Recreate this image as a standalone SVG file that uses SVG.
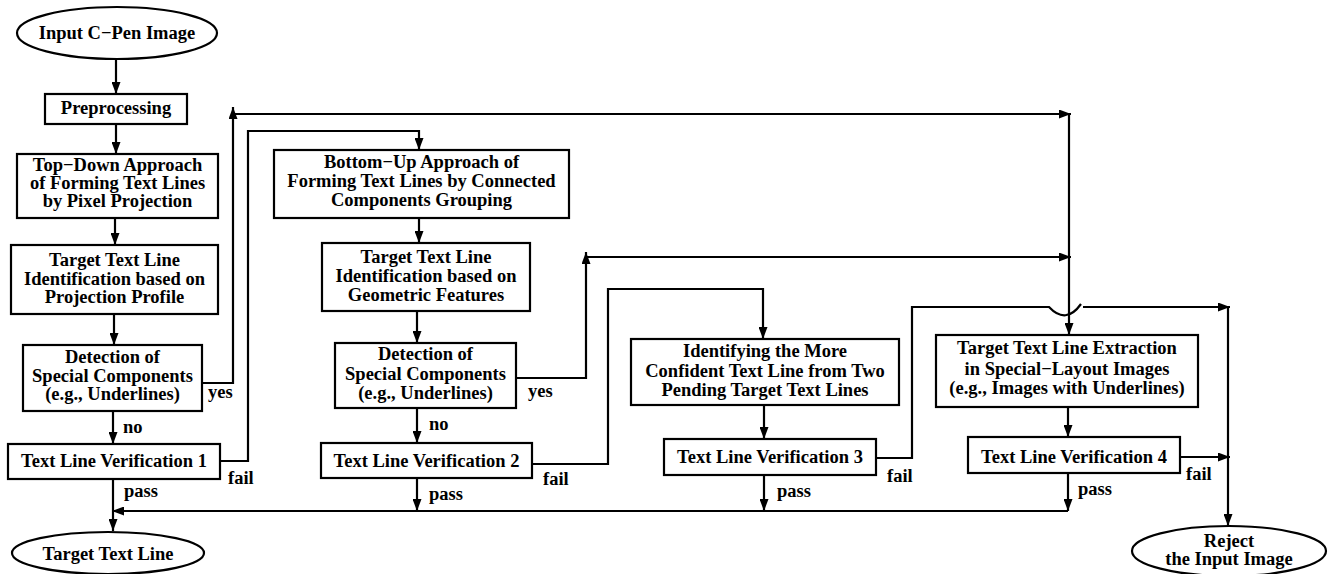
<svg xmlns="http://www.w3.org/2000/svg" width="1328" height="574" viewBox="0 0 1328 574" font-family="'Liberation Serif', 'Times New Roman', serif" font-weight="bold" font-size="18.5">
<defs>
<marker id="ah" viewBox="0 0 12 9" refX="12" refY="4.5" markerWidth="12" markerHeight="9" markerUnits="userSpaceOnUse" orient="auto">
<path d="M0,0 L12,4.5 L0,9 z" fill="#000"/>
</marker>
<style>
.b{fill:#fff;stroke:#000;stroke-width:2.2}
.t{fill:#000;text-anchor:middle}
.l{fill:#000}
.c{fill:none;stroke:#000;stroke-width:2.2;marker-end:url(#ah)}
</style>
</defs>
<rect width="1328" height="574" fill="#fff"/>
<g id="connectors">
<path class="c" d="M116,59 V94"/>
<path class="c" d="M116,124 V154"/>
<path class="c" d="M115,218 V245"/>
<path class="c" d="M114,314 V345"/>
<path class="c" d="M113,411 V444"/>
<path class="c" d="M113,479 V531"/>
<path class="c" d="M202,383 H233 V107"/>
<path class="c" d="M233,114 H1071"/>
<path class="c" d="M1069,114 V335"/>
<path class="c" d="M220,461 H248 V131 H419 V150"/>
<path class="c" d="M419,218 V243"/>
<path class="c" d="M417,311 V343"/>
<path class="c" d="M417,408 V443"/>
<path class="c" d="M516,378 H586 V252"/>
<path class="c" d="M586,257 H1071"/>
<path class="c" d="M532,464 H608 V289 H763 V339"/>
<path class="c" d="M764,405 V439"/>
<path class="c" d="M417,478 V511"/>
<path class="c" d="M764,475 V511"/>
<path class="c" d="M876,458 H912 V307 H1049 Q1066,325 1081,304 M1083,307 H1230"/>
<path class="c" d="M1228,307 V526"/>
<path class="c" d="M1068,407 V437"/>
<path class="c" d="M1180,457 H1230"/>
<path class="c" d="M1068,473 V511"/>
<path class="c" d="M1068,511 H112"/>
<text class="l" x="208" y="398">yes</text>
<text class="l" x="123" y="433">no</text>
<text class="l" x="228" y="484">fail</text>
<text class="l" x="124" y="497">pass</text>
<text class="l" x="528" y="397">yes</text>
<text class="l" x="429" y="430">no</text>
<text class="l" x="543" y="485">fail</text>
<text class="l" x="429" y="500">pass</text>
<text class="l" x="887" y="482">fail</text>
<text class="l" x="777" y="497">pass</text>
<text class="l" x="1186" y="480">fail</text>
<text class="l" x="1078" y="495">pass</text>
</g>
<g id="input">
<ellipse class="b" cx="117" cy="33" rx="100" ry="26"/>
<text class="t" x="117" y="39">Input C−Pen Image</text>
</g>
<g id="preprocessing">
<rect class="b" x="45" y="94" width="142" height="30"/>
<text class="t" x="116" y="114">Preprocessing</text>
</g>
<g id="topdown">
<rect class="b" x="17" y="154" width="201" height="64"/>
<text class="t" x="117.5" y="171">Top−Down Approach</text>
<text class="t" x="117.5" y="189">of Forming Text Lines</text>
<text class="t" x="117.5" y="207">by Pixel Projection</text>
</g>
<g id="projid">
<rect class="b" x="11" y="245" width="207" height="69"/>
<text class="t" x="114.5" y="266">Target Text Line</text>
<text class="t" x="114.5" y="285">Identification based on</text>
<text class="t" x="114.5" y="303">Projection Profile</text>
</g>
<g id="detect1">
<rect class="b" x="23" y="345" width="179" height="66"/>
<text class="t" x="112.5" y="363">Detection of</text>
<text class="t" x="112.5" y="382">Special Components</text>
<text class="t" x="112.5" y="400">(e.g., Underlines)</text>
</g>
<g id="tlv1">
<rect class="b" x="8" y="444" width="212" height="35"/>
<text class="t" x="114" y="467">Text Line Verification 1</text>
</g>
<g id="bottomup">
<rect class="b" x="274" y="150" width="295" height="68"/>
<text class="t" x="421.5" y="168">Bottom−Up Approach of</text>
<text class="t" x="421.5" y="187">Forming Text Lines by Connected</text>
<text class="t" x="421.5" y="206">Components Grouping</text>
</g>
<g id="geomid">
<rect class="b" x="322" y="243" width="208" height="68"/>
<text class="t" x="426" y="263">Target Text Line</text>
<text class="t" x="426" y="282">Identification based on</text>
<text class="t" x="426" y="301">Geometric Features</text>
</g>
<g id="detect2">
<rect class="b" x="335" y="343" width="181" height="65"/>
<text class="t" x="425.5" y="360">Detection of</text>
<text class="t" x="425.5" y="380">Special Components</text>
<text class="t" x="425.5" y="399">(e.g., Underlines)</text>
</g>
<g id="tlv2">
<rect class="b" x="321" y="443" width="211" height="35"/>
<text class="t" x="426.5" y="467">Text Line Verification 2</text>
</g>
<g id="confident">
<rect class="b" x="631" y="339" width="268" height="66"/>
<text class="t" x="765" y="357">Identifying the More</text>
<text class="t" x="765" y="377">Confident Text Line from Two</text>
<text class="t" x="765" y="396">Pending Target Text Lines</text>
</g>
<g id="tlv3">
<rect class="b" x="664" y="439" width="212" height="36"/>
<text class="t" x="770" y="463">Text Line Verification 3</text>
</g>
<g id="special">
<rect class="b" x="936" y="335" width="262" height="72"/>
<text class="t" x="1067" y="354">Target Text Line Extraction</text>
<text class="t" x="1067" y="375">in Special−Layout Images</text>
<text class="t" x="1067" y="394">(e.g., Images with Underlines)</text>
</g>
<g id="tlv4">
<rect class="b" x="968" y="437" width="212" height="36"/>
<text class="t" x="1074" y="463">Text Line Verification 4</text>
</g>
<g id="target">
<ellipse class="b" cx="108" cy="553" rx="96" ry="21"/>
<text class="t" x="108" y="560">Target Text Line</text>
</g>
<g id="reject">
<ellipse class="b" cx="1229" cy="551" rx="97" ry="25"/>
<text class="t" x="1229" y="547">Reject</text>
<text class="t" x="1229" y="565">the Input Image</text>
</g>
</svg>
